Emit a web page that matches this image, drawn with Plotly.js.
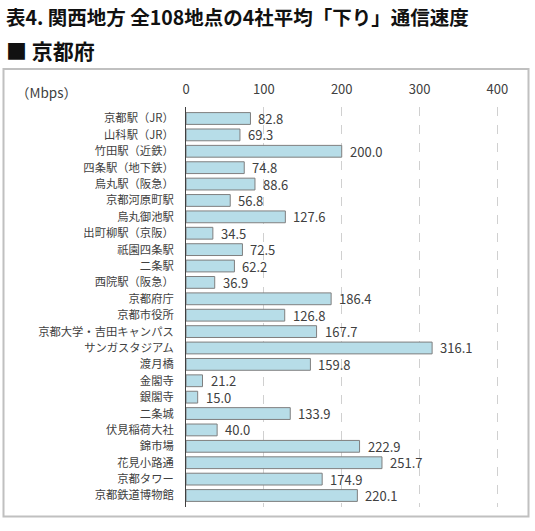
<!DOCTYPE html>
<html>
<head>
<meta charset="utf-8">
<script src="https://cdn.plot.ly/plotly-3.0.1.min.js"></script>
<style>
html,body{margin:0;padding:0;background:#fff;}
#chart{width:535px;height:531px;}
</style>
</head>
<body>
<div id="chart"></div>
<script>
const categories = ["京都駅（JR）","山科駅（JR）","竹田駅（近鉄）","四条駅（地下鉄）","烏丸駅（阪急）","京都河原町駅","烏丸御池駅","出町柳駅（京阪）","祇園四条駅","二条駅","西院駅（阪急）","京都府庁","京都市役所","京都大学・吉田キャンパス","サンガスタジアム","渡月橋","金閣寺","銀閣寺","二条城","伏見稲荷大社","錦市場","花見小路通","京都タワー","京都鉄道博物館"];
const values = [82.8,69.3,200.0,74.8,88.6,56.8,127.6,34.5,72.5,62.2,36.9,186.4,126.8,167.7,316.1,159.8,21.2,15.0,133.9,40.0,222.9,251.7,174.9,220.1];
const tickValues = [0,100,200,300,400];
const titleText = "表4. 関西地方 全108地点の4社平均「下り」通信速度";
const subtitleText = "■ 京都府";
const unitText = "（Mbps）";

const W = 535, H = 531;
const L = 186, R = 36, T = 107, B = 24;
const pw = W - L - R, ph = H - T - B;
const px2x = p => (p - L) / pw;
const py2y = p => (H - B - p) / ph;

const font = "'Noto Sans CJK JP', 'Noto Sans', sans-serif";

const trace = {
  type: 'bar',
  orientation: 'h',
  x: values,
  y: categories,
  marker: {color: '#b7dde8', line: {color: '#7f7f7f', width: 1}},
  width: 0.72,
  hoverinfo: 'skip'
};

const labelAnns = values.map((v, i) => ({
  x: v, y: categories[i], xref: 'x', yref: 'y',
  text: v.toFixed(1), showarrow: false, xanchor: 'left', xshift: 6,
  font: {family: font, size: 13, color: '#404040'}
}));

const layout = {
  width: W, height: H,
  margin: {l: L, r: R, t: T, b: B},
  paper_bgcolor: '#fff', plot_bgcolor: '#fff',
  showlegend: false,
  font: {family: font, size: 12, color: '#404040'},
  xaxis: {
    side: 'top', range: [0, 402], tickvals: tickValues,
    showgrid: true, gridcolor: '#d0d0d0', griddash: 'dash', gridwidth: 1,
    zeroline: false, showline: false, ticks: '', ticklabelstandoff: 9,
    tickfont: {family: font, size: 13, color: '#404040'}, fixedrange: true
  },
  yaxis: {
    type: 'category', autorange: 'reversed',
    showline: true, linecolor: '#404040', linewidth: 1,
    showgrid: false, zeroline: false, ticks: '', ticklabelstandoff: 9,
    tickfont: {family: font, size: 11.3, color: '#404040'}, fixedrange: true
  },
  annotations: [
    {x: px2x(4), y: py2y(17), xref: 'paper', yref: 'paper', xanchor: 'left', yanchor: 'middle',
     text: '<b>' + titleText + '</b>', showarrow: false, font: {family: font, size: 19.5, color: '#111'}},
    {x: px2x(4), y: py2y(50), xref: 'paper', yref: 'paper', xanchor: 'left', yanchor: 'middle',
     text: '<b>' + subtitleText + '</b>', showarrow: false, font: {family: font, size: 21, color: '#111'}},
    {x: px2x(46), y: py2y(92), xref: 'paper', yref: 'paper', xanchor: 'center', yanchor: 'middle',
     text: unitText, showarrow: false, font: {family: font, size: 13.5, color: '#404040'}}
  ].concat(labelAnns),
  shapes: [
    {type: 'rect', xref: 'paper', yref: 'paper', x0: px2x(3.5), x1: px2x(528.5), y0: py2y(516.5), y1: py2y(69),
     line: {color: '#c0c0c0', width: 2}, fillcolor: 'rgba(0,0,0,0)', layer: 'below'}
  ]
};

Plotly.newPlot('chart', [trace], layout, {displayModeBar: false, staticPlot: true});
</script>
</body>
</html>
